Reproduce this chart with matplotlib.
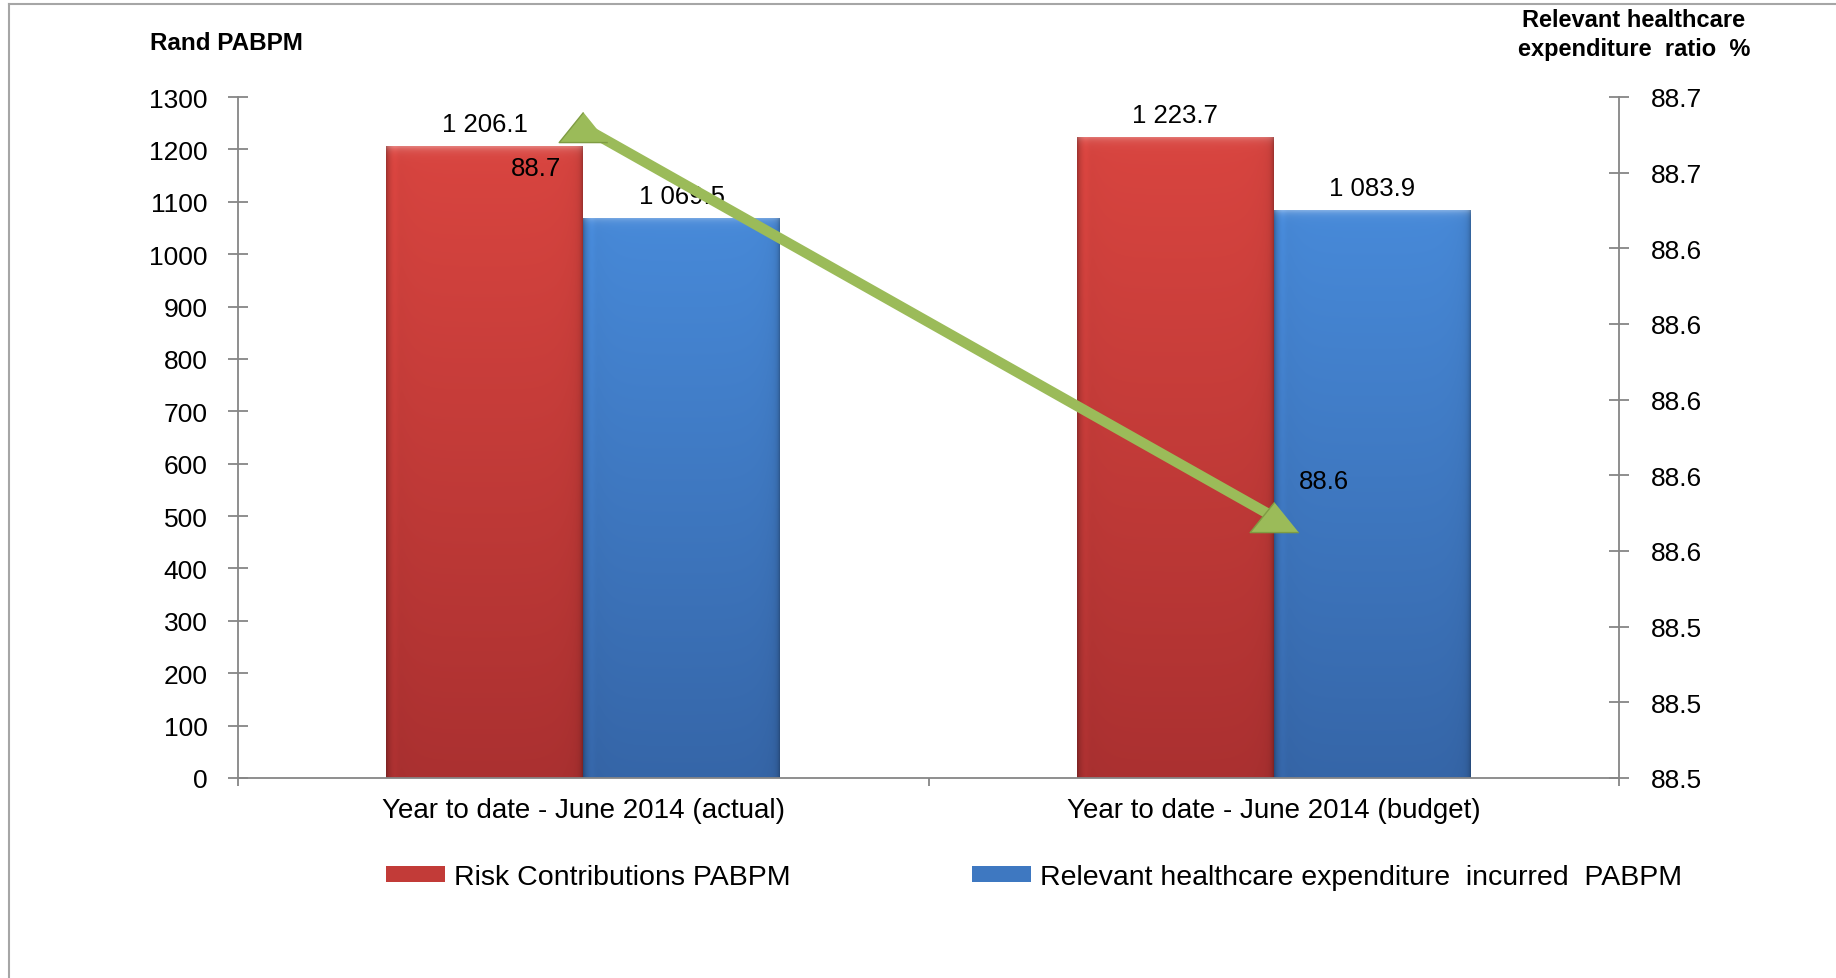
import numpy as np
import matplotlib
matplotlib.use("Agg")
import matplotlib.pyplot as plt
from matplotlib.patches import Patch
from matplotlib.lines import Line2D

# ---- data ----
categories = ["Year to date - June 2014 (actual)", "Year to date - June 2014 (budget)"]
risk_contributions = [1206.1, 1223.7]
healthcare_expenditure = [1069.5, 1083.9]
expenditure_ratio = [88.672, 88.569]
left_ticks = list(range(0, 1301, 100))
right_ticks = [88.50, 88.52, 88.54, 88.56, 88.58, 88.60, 88.62, 88.64, 88.66, 88.68]

series_names = ["Risk Contributions PABPM", "Relevant healthcare expenditure  incurred  PABPM"]

plt.rcParams['font.family'] = ['Liberation Sans', 'DejaVu Sans']

W, H = 1836, 979
fig = plt.figure(figsize=(W / 100, H / 100), dpi=100)
ax = fig.add_axes([238 / W, 200 / H, (1619 - 238) / W, (779 - 98) / H])

grey = '#868686'
green = '#9BBB59'
red_top, red_bot = np.array([0.85, 0.27, 0.25]), np.array([0.67, 0.19, 0.19])
blue_top, blue_bot = np.array([0.28, 0.54, 0.85]), np.array([0.21, 0.40, 0.66])


def shade_bar(axis, bar, top, bottom):
    """Fill a bar with a vertical gradient, a light top bevel and darker side edges."""
    x0, y0 = bar.get_x(), bar.get_y()
    bw, bh = bar.get_width(), bar.get_height()
    ny, nx = 400, 200
    t = np.linspace(0, 1, ny)[:, None]
    col = (1 - t) * top + t * bottom
    top_band = np.exp(-t / 0.006)
    col = col * (1 - 0.3 * top_band) + 0.3 * top_band
    u = np.linspace(0, 1, nx)[None, :]
    edge = (1 - 0.20 * (np.exp(-u / 0.012) + np.exp(-(1 - u) / 0.012))
            - 0.06 * (np.exp(-u / 0.06) + np.exp(-(1 - u) / 0.06))
            + 0.05 * np.exp(-((u - 0.04) / 0.02) ** 2))
    img = np.clip(col[:, None, :] * edge[..., None], 0, 1)
    im = axis.imshow(img, extent=[x0, x0 + bw, y0, y0 + bh], origin='upper',
                     aspect='auto', zorder=2.05, interpolation='bilinear')
    im.set_clip_path(bar)


x = np.arange(len(categories))
w = 0.285
red_bars = ax.bar(x - w / 2, risk_contributions, w, color=tuple(0.5 * (red_top + red_bot)), zorder=2)
blue_bars = ax.bar(x + w / 2, healthcare_expenditure, w, color=tuple(0.5 * (blue_top + blue_bot)), zorder=2)
for b in red_bars:
    shade_bar(ax, b, red_top, red_bot)
for b in blue_bars:
    shade_bar(ax, b, blue_top, blue_bot)


def fmt_thousands(v):
    return f"{v:,.1f}".replace(",", " ")


for bars, vals in ((red_bars, risk_contributions), (blue_bars, healthcare_expenditure)):
    for b, v in zip(bars, vals):
        ax.annotate(fmt_thousands(v), (b.get_x() + b.get_width() / 2, v),
                    xytext=(0, 16), textcoords='offset points',
                    ha='center', va='center', fontsize=18.5, zorder=3)

ax.set_xlim(-0.5, 1.5)
ax.set_ylim(0, 1300)
ax.set_yticks(left_ticks)
for s in ('top', 'right'):
    ax.spines[s].set_visible(False)
for s in ('left', 'bottom'):
    ax.spines[s].set_color(grey)
    ax.spines[s].set_linewidth(1.3)
ax.tick_params(axis='y', direction='inout', length=15, width=1.3, color=grey,
               labelsize=19, pad=14.5)
ax.set_xticks([-0.5, 0.5, 1.5])
ax.set_xticklabels([])
ax.tick_params(axis='x', which='major', direction='out', length=6, width=1.3, color=grey)
ax.set_xticks(x, minor=True)
ax.set_xticklabels(categories, minor=True)
ax.tick_params(axis='x', which='minor', length=0, pad=14, labelsize=20)

# ---- ratio line on secondary axis ----
ax2 = ax.twinx()
ax2.set_ylim(right_ticks[0], right_ticks[-1])
ax2.set_yticks(right_ticks)
ax2.set_yticklabels([f"{v:.1f}" for v in right_ticks])
for s in ('top', 'left', 'bottom'):
    ax2.spines[s].set_visible(False)
ax2.spines['right'].set_color(grey)
ax2.spines['right'].set_linewidth(1.3)
ax2.tick_params(axis='y', direction='inout', length=15, width=1.3, color=grey,
                labelsize=19, pad=15.5)

tri = [(0, 0.62), (-1, -0.62), (1, -0.62)]
ax2.plot(x, expenditure_ratio, color=green, lw=7.5, solid_capstyle='butt',
         marker=tri, markersize=35, markerfacecolor=green,
         markeredgecolor='#7f9c43', markeredgewidth=1.0, zorder=4)

ratio_offsets = [(-34, -29), (36, 26)]
for xi, v, off in zip(x, expenditure_ratio, ratio_offsets):
    ax2.annotate(f"{v:.1f}", (xi, v), xytext=off, textcoords='offset points',
                 ha='center', va='center', fontsize=18.5, zorder=5)

# ---- axis titles ----
fig.text(150 / W, 1 - 44 / H, "Rand PABPM", fontsize=17.5, fontweight='bold',
         ha='left', va='center')
fig.text(1634 / W, 1 - 35 / H, "Relevant healthcare\nexpenditure  ratio  %",
         fontsize=17, fontweight='bold', ha='center', va='center', linespacing=1.3)

# ---- legend ----
fs_leg = 20.5
em = fs_leg * 100 / 72
legend_items = [(red_bars, 386), (blue_bars, 972)]
for (bars, xpx), name in zip(legend_items, series_names):
    fig.legend(handles=[Patch(facecolor=bars[0].get_facecolor(), edgecolor='none')],
               labels=[name], loc='center left', bbox_to_anchor=(xpx / W, 1 - 878 / H),
               frameon=False, fontsize=fs_leg, handlelength=59 / em,
               handleheight=13 / em, handletextpad=9 / em,
               borderpad=0, borderaxespad=0)

# ---- chart frame ----
fig.add_artist(Line2D([9 / W, 9 / W], [0, 1 - 5 / H], transform=fig.transFigure,
                      color='#a6a6a6', lw=1.5))
fig.add_artist(Line2D([9 / W, 1], [1 - 5 / H, 1 - 5 / H], transform=fig.transFigure,
                      color='#a6a6a6', lw=1.5))

fig.savefig("out.png", dpi=100)
